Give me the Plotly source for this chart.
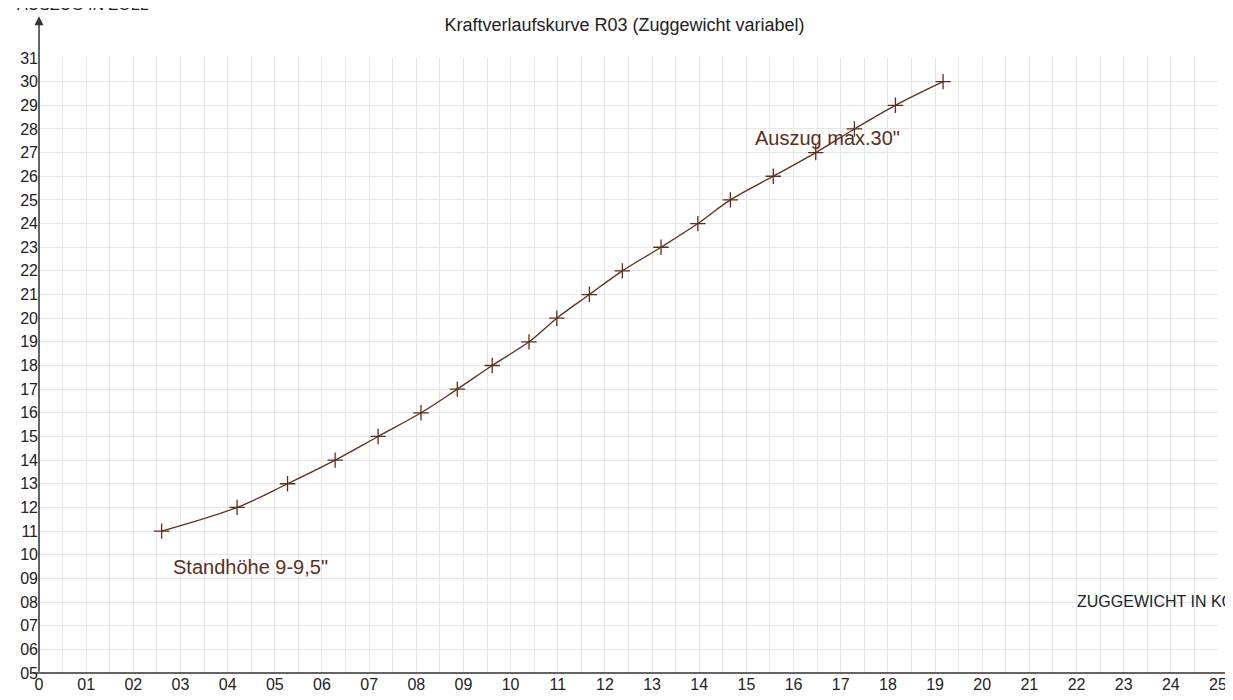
import plotly.graph_objects as go

# Zuggewicht (kg) vs. Auszug (Zoll)
zuggewicht = [2.6, 4.2, 5.27, 6.28, 7.19, 8.1, 8.87, 9.61, 10.39, 10.98,
              11.67, 12.37, 13.19, 13.97, 14.66, 15.57, 16.47, 17.29, 18.16, 19.17]
auszug = list(range(11, 31))

x_ticks = list(range(0, 26))
x_labels = ["0"] + ["%02d" % v for v in range(1, 26)]
y_ticks = list(range(5, 32))
y_labels = ["%02d" % v for v in y_ticks]

brown = "#5b2f1c"
font = "Liberation Sans, Arial, sans-serif"

fig = go.Figure()
fig.add_trace(go.Scatter(
    x=zuggewicht, y=auszug, mode="lines+markers", line_shape="spline",
    line=dict(color=brown, width=1.3),
    marker=dict(symbol="cross-thin", size=11, line=dict(color=brown, width=1.3)),
    hoverinfo="x+y"))

fig.update_xaxes(range=[0, 25], tickvals=x_ticks, ticktext=x_labels,
                 showgrid=True, gridcolor="#e6e6e6", gridwidth=1,
                 minor=dict(dtick=0.5, showgrid=True, gridcolor="#e6e6e6"),
                 zeroline=False, showline=False, ticks="",
                 tickfont=dict(size=16, color="#222"), fixedrange=True)
fig.update_yaxes(range=[5, 31], tickvals=y_ticks, ticktext=y_labels,
                 showgrid=True, gridcolor="#e6e6e6", gridwidth=1,
                 zeroline=False, showline=False, ticks="", ticklabelstandoff=0,
                 tickfont=dict(size=16, color="#222"), fixedrange=True)

# axes with arrows
fig.add_annotation(x=1.017, y=0, ax=-1207, ay=0, xref="paper", yref="paper",
                   axref="pixel", ayref="pixel", showarrow=True, arrowhead=2,
                   arrowsize=1.2, arrowwidth=1.5, arrowcolor="#333", text="")
fig.add_annotation(x=0, y=1.068, ax=0, ay=657, xref="paper", yref="paper",
                   axref="pixel", ayref="pixel", showarrow=True, arrowhead=2,
                   arrowsize=1.2, arrowwidth=1.5, arrowcolor="#333", text="")

fig.add_annotation(x=-0.02, y=1.07, xref="paper", yref="paper", xanchor="left",
                   yanchor="bottom", showarrow=False, text="AUSZUG IN ZOLL",
                   font=dict(size=16, color="#222", family=font))
fig.add_annotation(x=1.015, y=0.1, xref="paper", yref="paper", xanchor="right",
                   yanchor="bottom", showarrow=False, text="ZUGGEWICHT IN KG",
                   font=dict(size=16, color="#222", family=font))
fig.add_annotation(x=2.8, y=9.5, xanchor="left", showarrow=False,
                   text="Standhöhe 9-9,5\"", font=dict(size=20, color=brown, family=font))
fig.add_annotation(x=18.3, y=27.6, xanchor="right", showarrow=False,
                   text="Auszug max.30\"", font=dict(size=20, color=brown, family=font))

fig.update_layout(
    width=1233, height=700,
    title=dict(text="Kraftverlaufskurve R03 (Zuggewicht variabel)", x=0.5, y=0.985,
               xanchor="center", yanchor="top", font=dict(size=18, color="#222", family=font)),
    font=dict(family=font),
    plot_bgcolor="white", paper_bgcolor="white",
    margin=dict(l=24, r=23, t=50, b=35),
    showlegend=False)

fig.write_html("out.html", config=dict(displayModeBar=False))
